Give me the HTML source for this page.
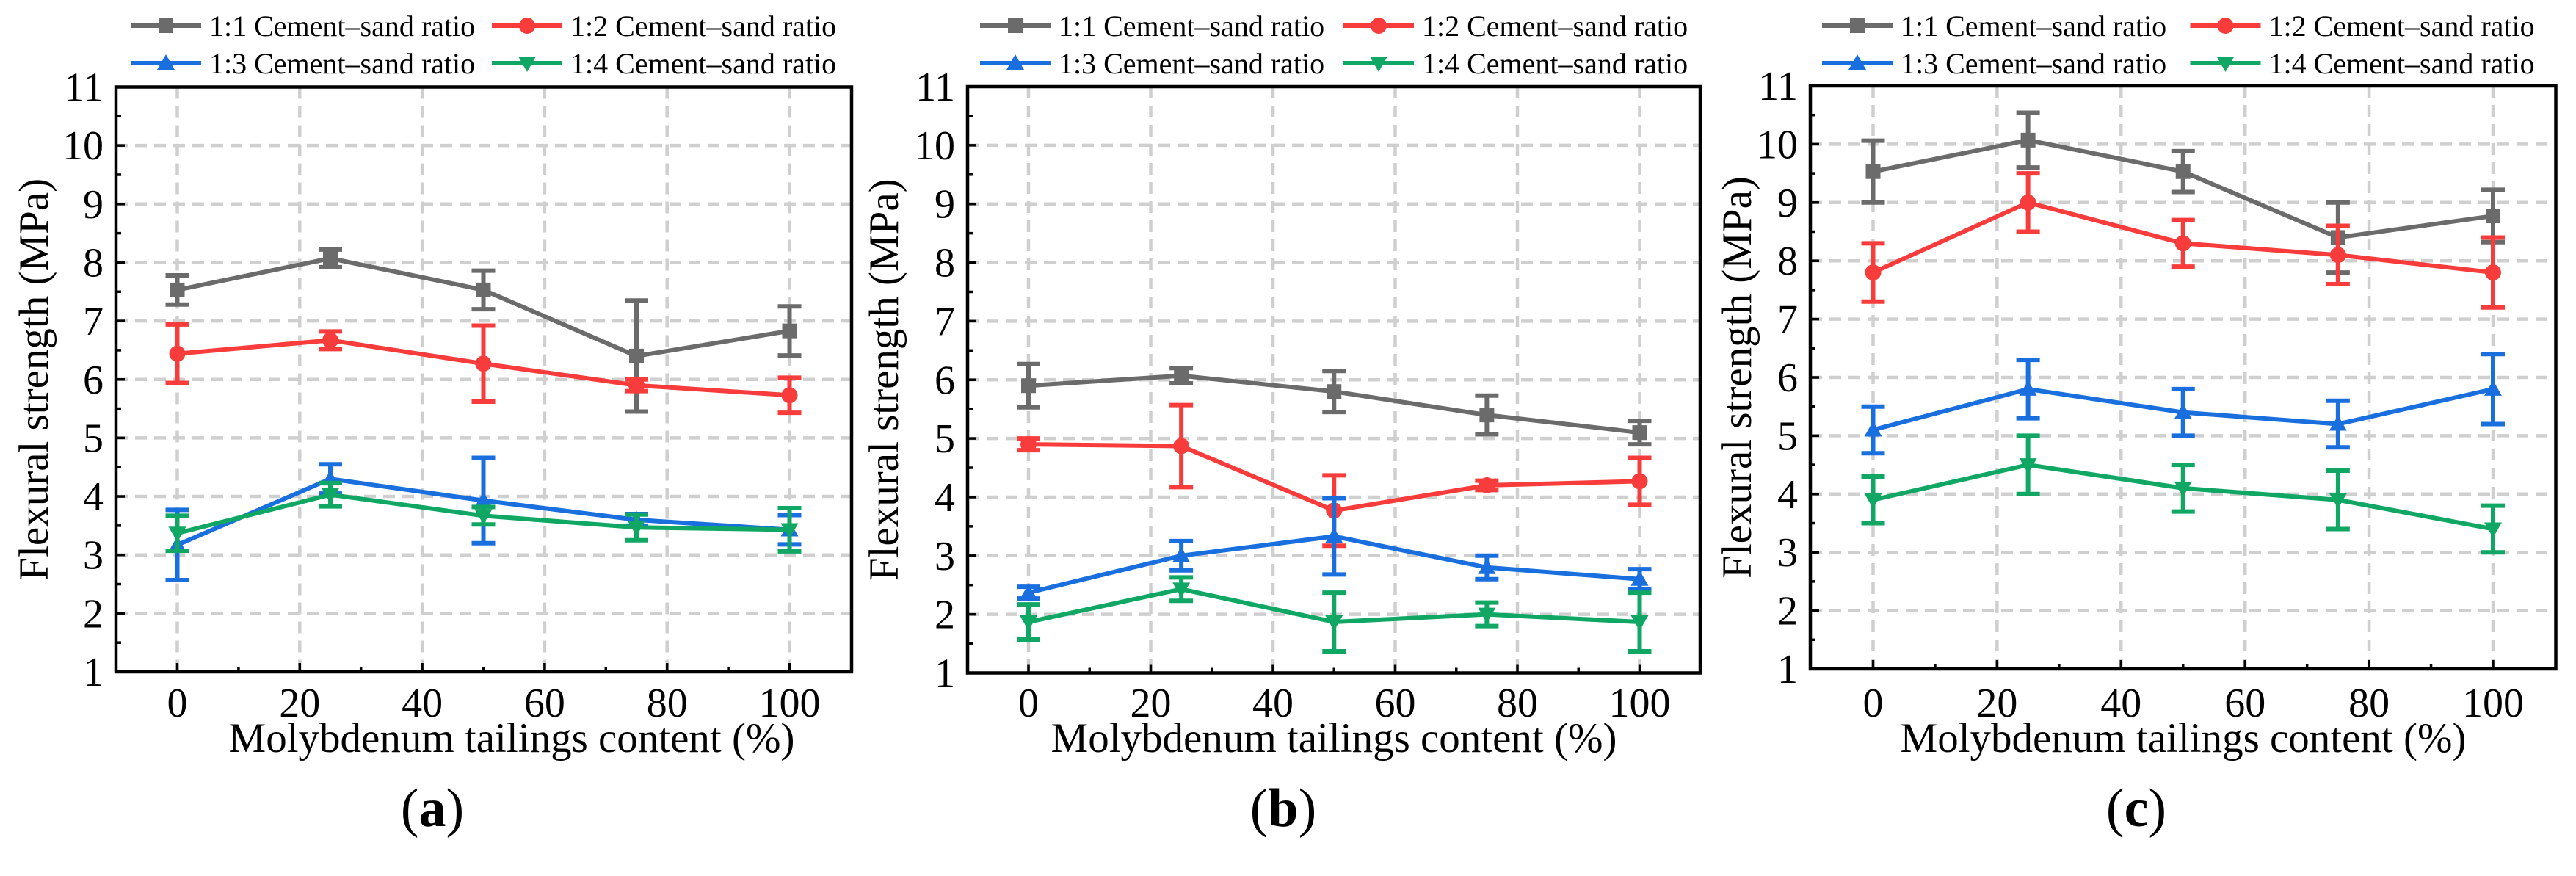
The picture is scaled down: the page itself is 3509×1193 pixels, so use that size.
<!DOCTYPE html>
<html><head><meta charset="utf-8"><style>
html,body{margin:0;padding:0;background:#fff;}
svg{display:block;font-family:"Liberation Serif",serif;}
</style></head><body>
<svg id="fig" width="3509" height="1193" viewBox="0 0 3509 1193" xmlns="http://www.w3.org/2000/svg"></svg>
<script>
const xCategories = [0, 25, 50, 75, 100];
const seriesNames = ["1:1 Cement\u2013sand ratio", "1:2 Cement\u2013sand ratio", "1:3 Cement\u2013sand ratio", "1:4 Cement\u2013sand ratio"];
const xTickLabels = [0, 20, 40, 60, 80, 100];
const yTickLabels = [1, 2, 3, 4, 5, 6, 7, 8, 9, 10, 11];
// Panel (a)
const a11 = [7.53, 8.07, 7.53, 6.4, 6.83];
const a11err = [0.25, 0.15, 0.33, 0.95, 0.42];
const a12 = [6.44, 6.67, 6.27, 5.9, 5.73];
const a12err = [0.5, 0.15, 0.65, 0.1, 0.3];
const a13 = [3.17, 4.3, 3.93, 3.6, 3.43];
const a13err = [0.6, 0.25, 0.73, 0.1, 0.25];
const a14 = [3.37, 4.03, 3.67, 3.47, 3.43];
const a14err = [0.3, 0.2, 0.15, 0.22, 0.37];
// Panel (b)
const b11 = [5.9, 6.07, 5.8, 5.4, 5.1];
const b11err = [0.37, 0.13, 0.35, 0.33, 0.2];
const b12 = [4.9, 4.87, 3.77, 4.2, 4.27];
const b12err = [0.1, 0.7, 0.6, 0.08, 0.4];
const b13 = [2.37, 3.0, 3.33, 2.8, 2.6];
const b13err = [0.1, 0.25, 0.65, 0.2, 0.17];
const b14 = [1.87, 2.43, 1.87, 2.0, 1.87];
const b14err = [0.3, 0.2, 0.5, 0.2, 0.5];
// Panel (c)
const c11 = [9.53, 10.07, 9.53, 8.4, 8.77];
const c11err = [0.53, 0.47, 0.35, 0.6, 0.45];
const c12 = [7.8, 9.0, 8.3, 8.1, 7.8];
const c12err = [0.5, 0.5, 0.4, 0.5, 0.6];
const c13 = [5.1, 5.8, 5.4, 5.2, 5.8];
const c13err = [0.4, 0.5, 0.4, 0.4, 0.6];
const c14 = [3.9, 4.5, 4.1, 3.9, 3.4];
const c14err = [0.4, 0.5, 0.4, 0.5, 0.4];

const colors = ["#6b6b6b", "#f83c3c", "#1a6fdf", "#0fa763"];
const markers = ["square", "circle", "up", "down"];
const NS = "http://www.w3.org/2000/svg";
const svg = document.getElementById("fig");
function mk(tag, attrs, parent) {
  const e = document.createElementNS(NS, tag);
  for (const k in attrs) e.setAttribute(k, attrs[k]);
  (parent || svg).appendChild(e);
  return e;
}
function marker(g, type, x, y, color) {
  let m;
  if (type === "square") m = mk("rect", {x: x-10, y: y-10, width: 20, height: 20, fill: color}, g);
  else if (type === "circle") m = mk("circle", {cx: x, cy: y, r: 11, fill: color}, g);
  else if (type === "up") m = mk("polygon", {points: `${x},${y-12} ${x-12},${y+9} ${x+12},${y+9}`, fill: color}, g);
  else m = mk("polygon", {points: `${x},${y+12} ${x-12},${y-9} ${x+12},${y-9}`, fill: color}, g);
  
  
}

const panels = [
  {id: "a", L: 158, R: 1160, T: 118.5, B: 915, x0: 241.5, x100: 1075.5, ylab: 46, xtitle: 697, label: 589, leg1: 178, leg2: 670,
   vals: [a11, a12, a13, a14], errs: [a11err, a12err, a13err, a14err]},
  {id: "b", L: 1318, R: 2316, T: 118, B: 916.5, x0: 1401, x100: 2233.5, ylab: 1204, xtitle: 1817, label: 1748, leg1: 1335, leg2: 1830,
   vals: [b11, b12, b13, b14], errs: [b11err, b12err, b13err, b14err]},
  {id: "c", L: 2466, R: 3481.5, T: 117, B: 911, x0: 2551.5, x100: 3396, ylab: 2366, xtitle: 2974, label: 2910, leg1: 2482, leg2: 2983.5,
   vals: [c11, c12, c13, c14], errs: [c11err, c12err, c13err, c14err]}
];

panels.forEach(p => {
  const g = mk("g", {});
  
  
  const xs = v => p.x0 + (p.x100 - p.x0) * v / 100;
  const ys = v => p.B - (p.B - p.T) * (v - 1) / 10;
  xTickLabels.forEach(t => {
    const l = mk("line", {x1: xs(t), x2: xs(t), y1: p.T, y2: p.B, stroke: "#cfcfcf", "stroke-width": 4.5, "stroke-dasharray": "16 10"}, g);
    
    
  });
  yTickLabels.forEach(t => {
    if (t === 1 || t === 11) return;
    const l = mk("line", {x1: p.L, x2: p.R, y1: ys(t), y2: ys(t), stroke: "#cfcfcf", "stroke-width": 4.5, "stroke-dasharray": "16 10"}, g);
    
    
  });
  yTickLabels.forEach(t => {
    mk("line", {x1: p.L, x2: p.L + 12, y1: ys(t), y2: ys(t), stroke: "#000", "stroke-width": 3.5}, g);
    if (t < 11) mk("line", {x1: p.L, x2: p.L + 7, y1: ys(t + 0.5), y2: ys(t + 0.5), stroke: "#000", "stroke-width": 3.5}, g);
    const tx = mk("text", {x: p.L - 17, y: ys(t) + 19, "font-size": 56, "text-anchor": "end", fill: "#000"}, g);
    tx.textContent = t;
    
    
  });
  xTickLabels.forEach((t, i) => {
    mk("line", {x1: xs(t), x2: xs(t), y1: p.B, y2: p.B - 12, stroke: "#000", "stroke-width": 3.5}, g);
    if (i < xTickLabels.length - 1) mk("line", {x1: xs(t + 10), x2: xs(t + 10), y1: p.B, y2: p.B - 7, stroke: "#000", "stroke-width": 3.5}, g);
    const tx = mk("text", {x: xs(t), y: 976, "font-size": 56, "text-anchor": "middle", fill: "#000"}, g);
    tx.textContent = t;
    
    
  });
  p.vals.forEach((vals, si) => {
    const sg = mk("g", {}, g);
    
    
    const errs = p.errs[si];
    const col = colors[si];
    xCategories.forEach((x, i) => {
      const X = xs(x), hi = ys(vals[i] + errs[i]), lo = ys(vals[i] - errs[i]);
      const e = mk("path", {d: `M${X},${hi}V${lo}M${X-16},${hi}H${X+16}M${X-16},${lo}H${X+16}`, stroke: col, "stroke-width": 6, fill: "none"}, sg);
      
      
    });
    const pts = xCategories.map((x, i) => xs(x) + "," + ys(vals[i])).join(" ");
    const pl = mk("polyline", {points: pts, stroke: col, "stroke-width": 6, fill: "none"}, sg);
    
    
    xCategories.forEach((x, i) => marker(sg, markers[si], xs(x), ys(vals[i]), col));
  });
  const fr = mk("rect", {x: p.L, y: p.T, width: p.R - p.L, height: p.B - p.T, fill: "none", stroke: "#000", "stroke-width": 4.5}, g);
  
  
  const yt = mk("text", {x: p.ylab, y: (p.T + p.B) / 2, "font-size": 57, "text-anchor": "middle", transform: `rotate(-90 ${p.ylab} ${(p.T + p.B) / 2})`, dy: 19}, g);
  yt.textContent = "Flexural strength (MPa)";
  
  
  const xt = mk("text", {x: p.xtitle, y: 1024, "font-size": 57, "text-anchor": "middle"}, g);
  xt.textContent = "Molybdenum tailings content (%)";
  
  
  const pl = mk("text", {x: p.label, y: 1125, "font-size": 74, "text-anchor": "middle"}, g);
  pl.innerHTML = `(<tspan font-weight="bold">${p.id}</tspan>)`;
  
  
  seriesNames.forEach((n, si) => {
    const lx = si % 2 === 0 ? p.leg1 : p.leg2;
    const ly = si < 2 ? 35 : 86;
    const lg = mk("g", {}, g);
    
    
    mk("line", {x1: lx, x2: lx + 96, y1: ly, y2: ly, stroke: colors[si], "stroke-width": 6}, lg);
    marker(lg, markers[si], lx + 48, ly, colors[si]);
    const t = mk("text", {x: lx + 107, y: ly + 14, "font-size": 40}, lg);
    t.textContent = n;
  });
});
</script>
</body></html>
